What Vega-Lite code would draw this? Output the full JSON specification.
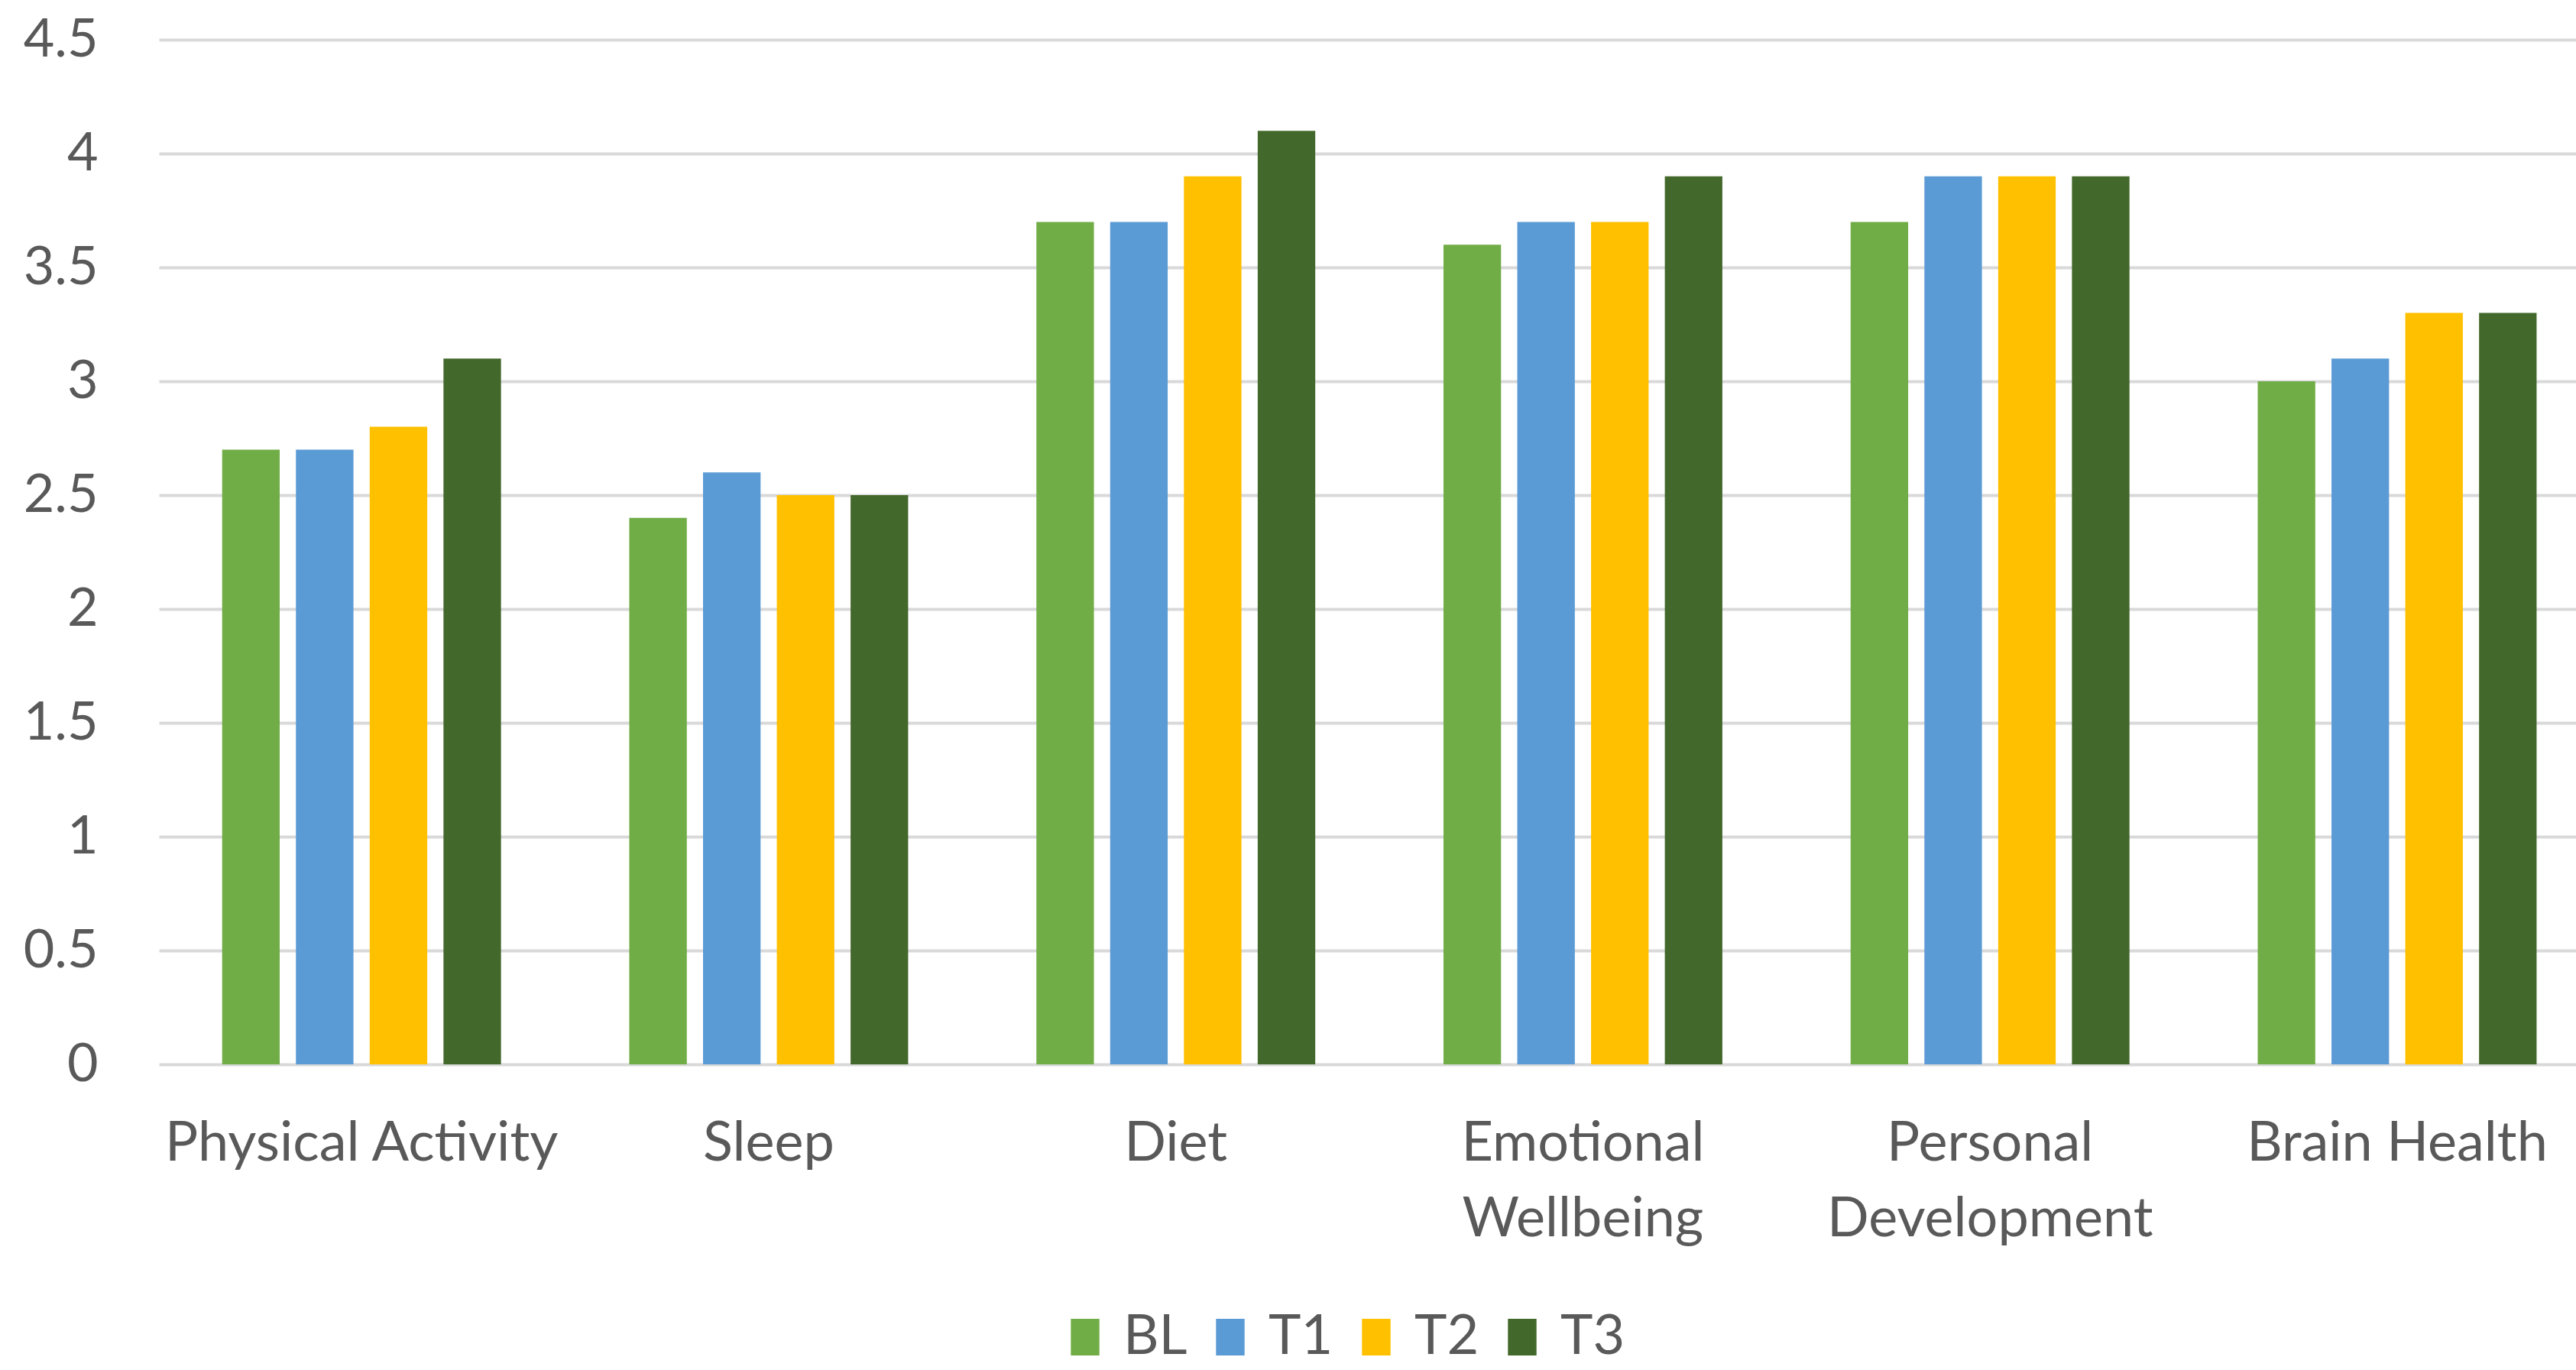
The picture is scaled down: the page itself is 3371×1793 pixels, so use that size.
{
  "$schema": "https://vega.github.io/schema/vega-lite/v6.json",
  "width": 3163,
  "height": 1341,
  "autosize": {"type": "none"},
  "padding": {"left": 208, "top": 52, "right": 0, "bottom": 400},
  "background": "white",
  "config": {"view": {"stroke": null}, "font": "Lato"},
  "data": {
    "values": [
      {"category": "Physical Activity", "time": "BL", "value": 2.7},
      {"category": "Physical Activity", "time": "T1", "value": 2.7},
      {"category": "Physical Activity", "time": "T2", "value": 2.8},
      {"category": "Physical Activity", "time": "T3", "value": 3.1},
      {"category": "Sleep", "time": "BL", "value": 2.4},
      {"category": "Sleep", "time": "T1", "value": 2.6},
      {"category": "Sleep", "time": "T2", "value": 2.5},
      {"category": "Sleep", "time": "T3", "value": 2.5},
      {"category": "Diet", "time": "BL", "value": 3.7},
      {"category": "Diet", "time": "T1", "value": 3.7},
      {"category": "Diet", "time": "T2", "value": 3.9},
      {"category": "Diet", "time": "T3", "value": 4.1},
      {"category": "Emotional|Wellbeing", "time": "BL", "value": 3.6},
      {"category": "Emotional|Wellbeing", "time": "T1", "value": 3.7},
      {"category": "Emotional|Wellbeing", "time": "T2", "value": 3.7},
      {"category": "Emotional|Wellbeing", "time": "T3", "value": 3.9},
      {"category": "Personal|Development", "time": "BL", "value": 3.7},
      {"category": "Personal|Development", "time": "T1", "value": 3.9},
      {"category": "Personal|Development", "time": "T2", "value": 3.9},
      {"category": "Personal|Development", "time": "T3", "value": 3.9},
      {"category": "Brain Health", "time": "BL", "value": 3.0},
      {"category": "Brain Health", "time": "T1", "value": 3.1},
      {"category": "Brain Health", "time": "T2", "value": 3.3},
      {"category": "Brain Health", "time": "T3", "value": 3.3}
    ]
  },
  "mark": {"type": "bar"},
  "encoding": {
    "x": {
      "field": "category",
      "type": "nominal",
      "sort": null,
      "scale": {"paddingInner": 0.315, "paddingOuter": 0.126, "align": 0.616},
      "axis": {
        "title": null,
        "labelAngle": 0,
        "labelExpr": "split(datum.label, '|')",
        "labelFontSize": 72,
        "labelColor": "#595959",
        "labelPadding": 68,
        "labelLineHeight": 99,
        "labelBaseline": "top",
        "labelLimit": 2000,
        "domain": false,
        "ticks": false
      }
    },
    "xOffset": {
      "field": "time",
      "type": "nominal",
      "sort": ["BL", "T1", "T2", "T3"],
      "scale": {"paddingInner": 0.22, "paddingOuter": 0}
    },
    "y": {
      "field": "value",
      "type": "quantitative",
      "scale": {"domain": [0, 4.5], "nice": false},
      "axis": {
        "title": null,
        "values": [0, 0.5, 1, 1.5, 2, 2.5, 3, 3.5, 4, 4.5],
        "format": "~g",
        "domain": false,
        "ticks": false,
        "gridColor": "#D9D9D9",
        "gridWidth": 4,
        "labelFontSize": 70,
        "labelColor": "#595959",
        "labelPadding": 80
      }
    },
    "color": {
      "field": "time",
      "type": "nominal",
      "sort": ["BL", "T1", "T2", "T3"],
      "scale": {"domain": ["BL", "T1", "T2", "T3"], "range": ["#70AD47", "#5B9BD5", "#FFC000", "#43682B"]},
      "legend": {
        "title": null,
        "orient": "none",
        "direction": "horizontal",
        "legendX": 1176,
        "legendY": 1662,
        "symbolType": "M-0.78,-1H0.78V1H-0.78Z",
        "symbolSize": 2300,
        "symbolStrokeWidth": 0,
        "labelFontSize": 72,
        "labelColor": "#595959",
        "labelOffset": 14,
        "columnPadding": 20
      }
    }
  }
}
